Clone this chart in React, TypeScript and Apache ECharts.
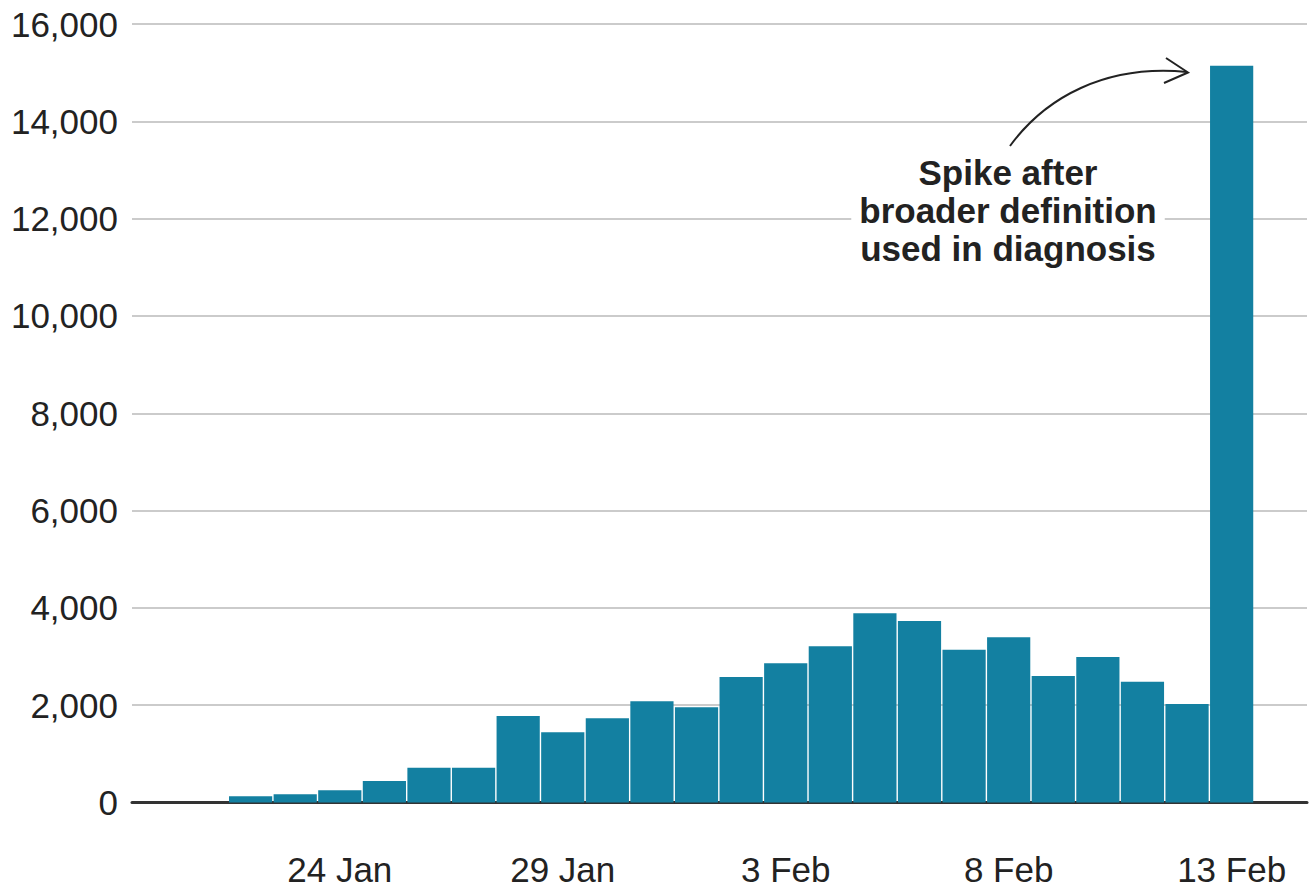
import React, { useEffect, useRef } from "react";
import * as echarts from "echarts";

const dates = [
  "22 Jan", "23 Jan", "24 Jan", "25 Jan", "26 Jan", "27 Jan", "28 Jan", "29 Jan",
  "30 Jan", "31 Jan", "1 Feb", "2 Feb", "3 Feb", "4 Feb", "5 Feb", "6 Feb",
  "7 Feb", "8 Feb", "9 Feb", "10 Feb", "11 Feb", "12 Feb", "13 Feb",
];
const cases = [
  131, 170, 250, 440, 715, 715, 1778, 1443,
  1731, 2081, 1957, 2580, 2862, 3211, 3890, 3731,
  3141, 3396, 2601, 2991, 2484, 2025, 15140,
];
const xTickIndices = [2, 7, 12, 17, 22];
const yTicks = [0, 2000, 4000, 6000, 8000, 10000, 12000, 14000, 16000];
const annotationLines = ["Spike after", "broader definition", "used in diagnosis"];

const FONT = 'Helvetica, "Liberation Sans", Arial, sans-serif';

export default function App() {
  const ref = useRef<HTMLDivElement>(null);

  useEffect(() => {
    if (!ref.current) return;
    const chart = echarts.init(ref.current, undefined, { renderer: "svg" });
    chart.setOption({
      animation: false,
      backgroundColor: "#ffffff",
      grid: { left: 132, right: 2, top: 24, bottom: 86.5, containLabel: false },
      xAxis: {
        type: "value",
        min: -2.66,
        max: 23.69,
        splitLine: { show: false },
        axisTick: { show: false },
        axisLine: { show: true, lineStyle: { color: "#333333", width: 3 } },
        axisLabel: {
          customValues: xTickIndices,
          formatter: (v: number) => dates[Math.round(v)] ?? "",
          color: "#222222",
          fontSize: 35,
          fontFamily: FONT,
          margin: 49,
        },
      },
      yAxis: {
        type: "value",
        min: yTicks[0],
        max: yTicks[yTicks.length - 1],
        interval: 2000,
        axisLine: { show: false },
        axisTick: { show: false },
        splitLine: { show: true, lineStyle: { color: "#cbcbcb", width: 1.8 } },
        axisLabel: {
          formatter: (v: number) => v.toLocaleString("en-US"),
          color: "#222222",
          fontSize: 35,
          fontFamily: FONT,
          margin: 14,
        },
      },
      series: [
        {
          type: "bar",
          data: cases.map((v, i) => [i, v]),
          barWidth: 43.2,
          itemStyle: { color: "#1380a1" },
          z: 1,
        },
      ],
      graphic: [
        {
          type: "text",
          x: 1008,
          y: 153,
          z: 100,
          style: {
            text: annotationLines.join("\n"),
            textAlign: "center",
            fill: "#222222",
            font: `bold 35px ${FONT}`,
            lineHeight: 38,
            backgroundColor: "#ffffff",
            padding: [0, 8, 0, 8],
          },
        },
        {
          type: "bezierCurve",
          z: 100,
          shape: { x1: 1010, y1: 146, cpx1: 1045, cpy1: 98, cpx2: 1105, cpy2: 64, x2: 1187, y2: 72 },
          style: { stroke: "#222222", lineWidth: 2, fill: "none" },
        },
        {
          type: "polyline",
          z: 100,
          shape: { points: [[1166, 58], [1188, 72.5], [1164, 83]] },
          style: { stroke: "#222222", lineWidth: 2, fill: "none" },
        },
      ],
    });
    return () => chart.dispose();
  }, []);

  return (
    <div
      ref={ref}
      style={{ position: "fixed", left: 0, top: 0, width: 1309, height: 889, background: "#fff" }}
    />
  );
}
